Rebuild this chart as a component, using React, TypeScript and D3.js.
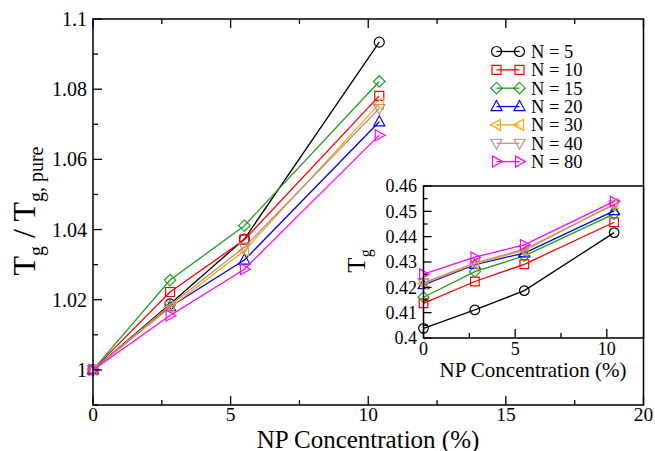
import React from "react";
import * as d3 from "d3";

const xConc = [0, 2.8, 5.5, 10.4];
const seriesLabels = ["N = 5", "N = 10", "N = 15", "N = 20", "N = 30", "N = 40", "N = 80"];
const seriesColors = ["#000000", "#ff0000", "#1f9e1f", "#0000ff", "#ffa500", "#bc8f8f", "#ff00ff"];
const seriesMarkers = ["circle", "square", "diamond", "triUp", "triLeft", "triDown", "triRight"];

// Main: Tg / Tg,pure
const ratioN5 = [1, 1.0188, 1.0373, 1.0934];
const ratioN10 = [1, 1.0222, 1.0371, 1.0781];
const ratioN15 = [1, 1.0256, 1.0411, 1.0822];
const ratioN20 = [1, 1.018, 1.0313, 1.0707];
const ratioN30 = [1, 1.0178, 1.034, 1.0758];
const ratioN40 = [1, 1.0184, 1.035, 1.0745];
const ratioN80 = [1, 1.0155, 1.0287, 1.0669];
const ratioSeries = [ratioN5, ratioN10, ratioN15, ratioN20, ratioN30, ratioN40, ratioN80];

// Inset: Tg
const tgN5 = [0.4038, 0.4111, 0.4187, 0.4416];
const tgN10 = [0.4137, 0.4223, 0.4291, 0.4457];
const tgN15 = [0.4161, 0.4262, 0.4324, 0.449];
const tgN20 = [0.421, 0.429, 0.4335, 0.4502];
const tgN30 = [0.4215, 0.4293, 0.4345, 0.453];
const tgN40 = [0.4218, 0.4297, 0.435, 0.4526];
const tgN80 = [0.4252, 0.4319, 0.4368, 0.4539];
const tgSeries = [tgN5, tgN10, tgN15, tgN20, tgN30, tgN40, tgN80];

const mainXTicks = [0, 5, 10, 15, 20];
const mainXMinor = [2.5, 7.5, 12.5, 17.5];
const mainYTicks = [1, 1.02, 1.04, 1.06, 1.08, 1.1];
const mainYTickLabels = ["1", "1.02", "1.04", "1.06", "1.08", "1.1"];
const mainYMinor = [0.99, 1.01, 1.03, 1.05, 1.07, 1.09];
const insetXTicks = [0, 5, 10];
const insetXMinor = [2.5, 7.5];
const insetYTicks = [0.4, 0.41, 0.42, 0.43, 0.44, 0.45, 0.46];
const insetYTickLabels = ["0.4", "0.41", "0.42", "0.43", "0.44", "0.45", "0.46"];
const insetYMinor = [0.405, 0.415, 0.425, 0.435, 0.445, 0.455];

const FONT = "'Liberation Serif', 'DejaVu Serif', serif";

function markerPath(kind: string, cx: number, cy: number, s: number): string {
  const h = s;
  switch (kind) {
    case "square":
      return `M${cx - h * 0.9},${cy - h * 0.9}h${h * 1.8}v${h * 1.8}h${-h * 1.8}Z`;
    case "diamond":
      return `M${cx},${cy - h * 1.15}L${cx + h * 1.15},${cy}L${cx},${cy + h * 1.15}L${cx - h * 1.15},${cy}Z`;
    case "triUp":
      return `M${cx},${cy - h * 1.2}L${cx + h * 1.1},${cy + h * 0.8}L${cx - h * 1.1},${cy + h * 0.8}Z`;
    case "triDown":
      return `M${cx},${cy + h * 1.2}L${cx + h * 1.1},${cy - h * 0.8}L${cx - h * 1.1},${cy - h * 0.8}Z`;
    case "triLeft":
      return `M${cx - h * 1.2},${cy}L${cx + h * 0.8},${cy - h * 1.1}L${cx + h * 0.8},${cy + h * 1.1}Z`;
    case "triRight":
      return `M${cx + h * 1.2},${cy}L${cx - h * 0.8},${cy - h * 1.1}L${cx - h * 0.8},${cy + h * 1.1}Z`;
    default: {
      const p = d3.path();
      p.arc(cx, cy, h, 0, Math.PI * 2);
      p.closePath();
      return p.toString();
    }
  }
}

function Marker({ kind, cx, cy, color, s = 5 }: { kind: string; cx: number; cy: number; color: string; s?: number }) {
  return <path d={markerPath(kind, cx, cy, s)} fill="none" stroke={color} strokeWidth={1.2} />;
}

export default function App() {
  const W = 655;
  const H = 451;
  // main plot
  const mx = d3.scaleLinear().domain([0, 20]).range([93, 643.5]);
  const my = d3.scaleLinear().domain([0.99, 1.1]).range([405, 19]);
  // inset
  const ix = d3.scaleLinear().domain([0, 12]).range([423.5, 643.5]);
  const iy = d3.scaleLinear().domain([0.4, 0.46]).range([338, 186]);

  const mainLine = d3.line<number>().x((_, i) => mx(xConc[i])).y((d) => my(d));
  const insetLine = d3.line<number>().x((_, i) => ix(xConc[i])).y((d) => iy(d));

  const legendY0 = 51.5;
  const legendStep = 18.35;

  return (
    <svg width={W} height={H} style={{ position: "absolute", left: 0, top: 0, background: "#fff" }} fontFamily={FONT}>
      <rect x={0} y={0} width={W} height={H} fill="#fff" />
      {/* main data */}
      {ratioSeries.map((vals, si) => (
        <g key={"m" + si}>
          <path d={mainLine(vals) || ""} fill="none" stroke={seriesColors[si]} strokeWidth={1.3} />
          {vals.map((v, i) => (
            <Marker key={i} kind={seriesMarkers[si]} cx={mx(xConc[i])} cy={my(v)} color={seriesColors[si]} />
          ))}
        </g>
      ))}
      {/* main frame */}
      <rect x={mx(0)} y={my(1.1)} width={mx(20) - mx(0)} height={my(0.99) - my(1.1)} fill="none" stroke="#000" strokeWidth={1.5} />
      {/* main x ticks bottom & top */}
      {mainXTicks.map((t) => (
        <g key={"mxt" + t}>
          <line x1={mx(t)} x2={mx(t)} y1={405} y2={396} stroke="#000" strokeWidth={1.3} />
          <line x1={mx(t)} x2={mx(t)} y1={19} y2={28} stroke="#000" strokeWidth={1.3} />
          <text x={mx(t)} y={421} fontSize={19.5} textAnchor="middle">{t}</text>
        </g>
      ))}
      {mainXMinor.map((t) => (
        <g key={"mxm" + t}>
          <line x1={mx(t)} x2={mx(t)} y1={405} y2={400} stroke="#000" strokeWidth={1.3} />
          <line x1={mx(t)} x2={mx(t)} y1={19} y2={24} stroke="#000" strokeWidth={1.3} />
        </g>
      ))}
      {mainYTicks.map((t, i) => (
        <g key={"myt" + t}>
          <line x1={93} x2={102} y1={my(t)} y2={my(t)} stroke="#000" strokeWidth={1.3} />
          <text x={87} y={my(t)} dy="0.35em" fontSize={20} textAnchor="end">{mainYTickLabels[i]}</text>
        </g>
      ))}
      {mainYMinor.map((t) => (
        <line key={"mym" + t} x1={93} x2={98} y1={my(t)} y2={my(t)} stroke="#000" strokeWidth={1.3} />
      ))}
      {/* main axis titles */}
      <text x={368} y={447.5} fontSize={25} textAnchor="middle">NP Concentration (%)</text>
      <text transform={`translate(35,211) rotate(-90)`} textAnchor="middle" fontSize={32}>
        <tspan>T</tspan>
        <tspan fontSize={20} dy={8}>g</tspan>
        <tspan dy={-8}> / T</tspan>
        <tspan fontSize={20} dy={8}>g, pure</tspan>
      </text>

      {/* legend */}
      {seriesLabels.map((lab, si) => {
        const y = legendY0 + si * legendStep;
        return (
          <g key={"lg" + si}>
            <line x1={496.5} x2={519.5} y1={y} y2={y} stroke={seriesColors[si]} strokeWidth={1.3} />
            <Marker kind={seriesMarkers[si]} cx={496.5} cy={y} color={seriesColors[si]} />
            <Marker kind={seriesMarkers[si]} cx={519.5} cy={y} color={seriesColors[si]} />
            <text x={531} y={y} dy="0.35em" fontSize={18.5}>{lab}</text>
          </g>
        );
      })}

      {/* inset */}
      <rect x={ix(0)} y={iy(0.46)} width={ix(12) - ix(0)} height={iy(0.4) - iy(0.46)} fill="#fff" />
      {tgSeries.map((vals, si) => (
        <g key={"i" + si}>
          <path d={insetLine(vals) || ""} fill="none" stroke={seriesColors[si]} strokeWidth={1.3} />
          {vals.map((v, i) => (
            <Marker key={i} kind={seriesMarkers[si]} cx={ix(xConc[i])} cy={iy(v)} color={seriesColors[si]} s={4.8} />
          ))}
        </g>
      ))}
      <rect x={ix(0)} y={iy(0.46)} width={ix(12) - ix(0)} height={iy(0.4) - iy(0.46)} fill="none" stroke="#000" strokeWidth={1.5} />
      {insetXTicks.map((t) => (
        <g key={"ixt" + t}>
          <line x1={ix(t)} x2={ix(t)} y1={338} y2={329} stroke="#000" strokeWidth={1.3} />
          <text x={ix(t)} y={355} fontSize={18} textAnchor="middle">{t}</text>
        </g>
      ))}
      {insetXMinor.map((t) => (
        <line key={"ixm" + t} x1={ix(t)} x2={ix(t)} y1={338} y2={333} stroke="#000" strokeWidth={1.3} />
      ))}
      {insetYTicks.map((t, i) => (
        <g key={"iyt" + t}>
          <line x1={ix(0)} x2={ix(0) + 8} y1={iy(t)} y2={iy(t)} stroke="#000" strokeWidth={1.3} />
          <text x={417} y={iy(t)} dy="0.35em" fontSize={18} textAnchor="end">{insetYTickLabels[i]}</text>
        </g>
      ))}
      {insetYMinor.map((t) => (
        <line key={"iym" + t} x1={ix(0)} x2={ix(0) + 4} y1={iy(t)} y2={iy(t)} stroke="#000" strokeWidth={1.3} />
      ))}
      <text x={533} y={377} fontSize={21} textAnchor="middle">NP Concentration (%)</text>
      <text transform={`translate(365,261) rotate(-90)`} textAnchor="middle" fontSize={25}>
        <tspan>T</tspan>
        <tspan fontSize={16} dy={6}>g</tspan>
      </text>
    </svg>
  );
}
